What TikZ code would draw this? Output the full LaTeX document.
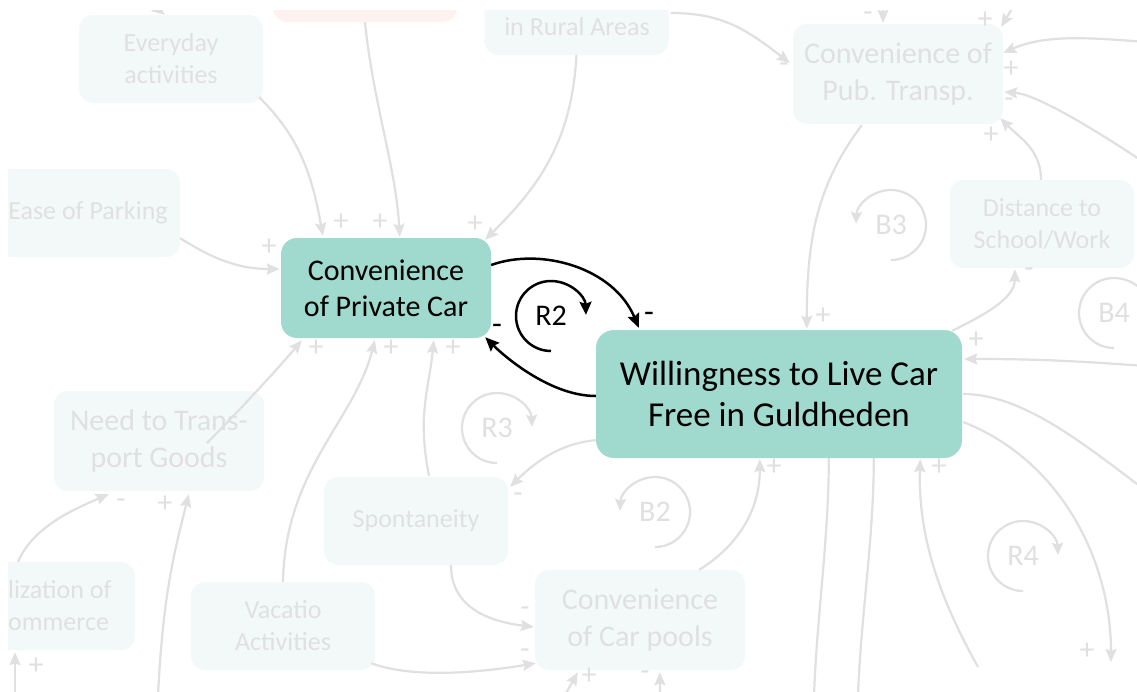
\documentclass[tikz,border=0pt]{standalone}
\usepackage{fontspec}
\setmainfont{Carlito}
\usetikzlibrary{arrows.meta,calc}
\definecolor{fadeline}{RGB}{224,224,224}
\definecolor{fadetext}{RGB}{224,224,224}
\definecolor{fadefill}{RGB}{243,249,249}
\definecolor{pinkfill}{RGB}{253,242,240}
\definecolor{tealfill}{RGB}{160,217,205}
\pgfdeclarelayer{back}
\pgfsetlayers{back,main}
\tikzset{
  smallbox/.style={rounded corners=14pt, fill=fadefill, text=fadetext, minimum width=184pt,
    minimum height=88pt, inner sep=0pt, align=center, font=\fontsize{26}{32}\selectfont},
  bigbox/.style={smallbox, minimum width=210pt, minimum height=100pt, font=\fontsize{30}{37}\selectfont},
  fadelabel/.style={text=fadetext, inner sep=0pt, font=\fontsize{26}{32}\selectfont},
  mainbox/.style={rounded corners=16pt, fill=tealfill, text=black, inner sep=0pt, align=center},
  fline/.style={draw=fadeline, line width=2.2pt, -{Stealth[length=13pt,width=11pt,inset=2pt]}},
  fplain/.style={draw=fadeline, line width=2.2pt},
  bline/.style={draw=black, line width=2.5pt, -{Stealth[length=14pt,width=12pt,inset=2pt]}},
  fsign/.style={text=fadetext, inner sep=0pt, font=\fontsize{30}{30}\selectfont},
  bsign/.style={text=black, inner sep=0pt, font=\fontsize{32}{32}\selectfont},
  floop/.style={text=fadetext, inner sep=0pt, font=\fontsize{30}{30}\selectfont},
  floopline/.style={draw=fadeline, line width=2.2pt, -{Stealth[length=12pt,width=11pt,inset=2pt]}},
  bloop/.style={text=black, inner sep=0pt, font=\fontsize{30}{30}\selectfont},
  bloopline/.style={draw=black, line width=2.5pt, -{Stealth[length=13pt,width=12pt,inset=2pt]}},
}
\begin{document}
\begin{tikzpicture}[x=1pt,y=-1pt]
\useasboundingbox (0,0) rectangle (1137,691);

% highlighted variables of loop R2
\node[mainbox, minimum width=210pt, minimum height=100pt, font=\fontsize{30}{36}\selectfont]
  (cpc) at (386,288) {Convenience\\of Private Car};
\node[mainbox, rounded corners=18pt, minimum width=366pt, minimum height=128pt, font=\fontsize{35}{41}\selectfont]
  (wlcf) at (779,394) {Willingness to Live Car\\Free in Guldheden};

\draw[bline] ($(cpc.east)+(0,-23)$) .. controls +(50,-18) and +(-25,-60) .. ($(wlcf.north west)+(43,-2)$);
\draw[bline] ($(wlcf.west)+(0,2)$) .. controls +(-45,0) and +(20,20) .. ($(cpc.south east)+(-6,-1)$);
\node[bsign] (m1) at (649,317) {-};
\node[bsign] (m2) at (497,329) {-};

\node[bloop] (r2) at (551,316) {R2};
\draw[bloopline] ($(r2)+(0,35)$) arc[start angle=-90, end angle=-358, radius=35pt];

\begin{pgfonlayer}{back}
\fill[white] (0,0) rectangle (1137,691);
\begin{scope}
\clip (8,10) rectangle (1137,691);

% faded variables
\node[smallbox, fill=pinkfill] (red) at (365,-22) {};
\node[smallbox] (everyday) at (171,59) {Everyday\\activities};
\node[smallbox] (rural) at (576.5,11) {};
\node[fadelabel] (ruraltext) at (577,27) {in Rural Areas};
\node[smallbox] (parking) at (88,213) {Ease of Parking};
\node[bigbox] (pubt) at (898,74) {Convenience of\\Pub. Transp.};
\node[smallbox] (distance) at (1042,224) {Distance to\\School/Work};
\node[bigbox] (need) at (159,441) {Need to Trans-\\port Goods};
\node[smallbox] (spont) at (416,521) {Spontaneity};
\node[smallbox] (vacatio) at (283,626) {Vacatio\\Activities};
\node[bigbox] (carpool) at (640,620) {Convenience\\of Car pools};
\node[smallbox] (lization) at (43,606) {};
\node[fadelabel, anchor=west, align=left] (lizationtext) at (8,606) {lization of\\ommerce};

% free ends of links leaving the sheet
\coordinate (topA) at (883,-5);
\coordinate (topB) at (1020,-5);
\coordinate (topE) at (140,-5);
\coordinate (rightA) at (1145,42);
\coordinate (rightB) at (1145,163);
\coordinate (rightC) at (1145,366);
\coordinate (rightD) at (1145,490);
\coordinate (outR) at (1111,662);
\coordinate (botA) at (978,667);
\coordinate (botB) at (814,695);
\coordinate (botC) at (858,695);
\coordinate (botD) at (158,695);
\coordinate (botE) at (15,695);
\coordinate (botF) at (565,695);
\coordinate (botG) at (660,695);

% faded links
\draw[fline] (red.south) .. controls +(8,80) and +(-4,-70) .. ($(cpc.north west)+(119,-1)$);
\draw[fline] ($(everyday.south east)+(-4,-6)$) .. controls +(35,35) and +(-12,-70) .. ($(cpc.north west)+(42,-2)$);
\draw[fline] (rural.south) .. controls +(-5,90) and +(50,-50) .. ($(cpc.north east)+(-6,2)$);
\draw[fline] ($(parking.south east)+(0,-19)$) .. controls +(35,22) and +(-40,0) .. ($(cpc.west)+(-1,-19)$);
\draw[fline] ($(need.center)+(48,2)$) .. controls +(25,-25) and +(-25,30) .. ($(cpc.south west)+(21,2)$);
\draw[fline] (vacatio.north) .. controls +(2,-112) and +(-20,80) .. ($(cpc.south west)+(94,2)$);
\draw[fline] ($(spont.north)+(13,-1)$) .. controls +(-12,-60) and +(-5,50) .. ($(cpc.south west)+(153,2)$);
\draw[fline] ($(wlcf.south west)+(0,-18)$) .. controls +(-35,3) and +(25,-25) .. ($(spont.north east)+(2,10)$);
\draw[fline] ($(spont.south)+(35,0)$) .. controls +(0,45) and +(-40,-5) .. ($(carpool.west)+(-1,7)$);
\draw[fline] ($(vacatio.south east)+(-4,-7)$) .. controls +(40,15) and +(-60,10) .. ($(carpool.south west)+(1,-7)$);
\draw[fline] ($(carpool.north east)+(-46,0)$) .. controls +(40,-25) and +(0,50) .. ($(wlcf.south west)+(164,1)$);
\draw[fline] ($(pubt.south west)+(69,1)$) .. controls +(-45,60) and +(0,-90) .. ($(wlcf.north west)+(211,-1)$);
\draw[fline] ($(rural.east)+(2,2)$) .. controls +(50,0) and +(-45,-35) .. ($(pubt.west)+(-3,-11)$);
\draw[fline] (topA) -- ($(pubt.north)+(-15,-1)$);
\draw[fline] (topB) -- ($(pubt.north east)+(-2,3)$);
\draw[fline] (rightA) .. controls +(-60,-5) and +(40,-18) .. ($(pubt.east)+(0,-21)$);
\draw[fline] (rightB) .. controls +(-60,-40) and +(30,2) .. ($(pubt.east)+(1,18)$);
\draw[fline] ($(distance.north)+(-1,0)$) .. controls +(0,-30) and +(20,20) .. ($(pubt.south east)+(-3,-6)$);
\draw[fline] ($(wlcf.north east)+(-10,1)$) .. controls +(30,-15) and +(0,30) .. ($(distance.south west)+(65,1)$);
\draw[fline] (rightC) .. controls +(-80,-6) and +(60,0) .. ($(wlcf.east)+(2,-35)$);
\draw[fplain] ($(wlcf.east)+(1,0)$) .. controls +(60,0) and +(-60,-45) .. (rightD);
\draw[fline] ($(wlcf.east)+(1,28)$) .. controls +(97,38) and +(0,-102) .. (outR);
\draw[fline] (botA) .. controls +(-43,-77) and +(-2,71) .. ($(wlcf.south east)+(-42,1)$);
\draw[fplain] ($(wlcf.south west)+(233,0)$) .. controls +(0,80) and +(3,-80) .. (botB);
\draw[fplain] ($(wlcf.south west)+(278,0)$) .. controls +(0,80) and +(3,-80) .. (botC);
\draw[fline] ($(lization.north)+(-25,0)$) .. controls +(15,-35) and +(-35,15) .. ($(need.south west)+(55,3)$);
\draw[fline] (botD) .. controls +(5,-100) and +(-15,60) .. ($(need.south west)+(135,3)$);
\draw[fline] (botE) -- ($(lization.south)+(-28,2)$);
\draw[fline] (botF) -- ($(carpool.south west)+(43,2)$);
\draw[fline] (botG) -- ($(carpool.south west)+(125,2)$);
\draw[fline] (topE) -- ($(everyday.north west)+(86,0)$);

% link polarities
\node[fsign] (p1) at (380,222) {+};
\node[fsign] (p2) at (341,222) {+};
\node[fsign] (p3) at (475,224) {+};
\node[fsign] (p4) at (269,247) {+};
\node[fsign] (p5) at (316,348) {+};
\node[fsign] (p6) at (391,348) {+};
\node[fsign] (p7) at (453,348) {+};
\node[fsign] (p8) at (518,498) {-};
\node[fsign] (p9) at (525,612) {-};
\node[fsign] (p10) at (525,654) {-};
\node[fsign] (p11) at (774,467) {+};
\node[fsign] (p12) at (823,316) {+};
\node[fsign] (p13) at (784,68) {-};
\node[fsign] (p14) at (868,17) {-};
\node[fsign] (p15) at (985,20) {+};
\node[fsign] (p16) at (1011,69) {+};
\node[fsign] (p17) at (1009,103) {-};
\node[fsign] (p18) at (991,135) {+};
\node[fsign] (p19) at (1029,273) {-};
\node[fsign] (p20) at (976,340) {+};
\node[fsign] (p21) at (1087,651) {+};
\node[fsign] (p22) at (939,467) {+};
\node[fsign] (p23) at (121,504) {-};
\node[fsign] (p24) at (165,504) {+};
\node[fsign] (p25) at (36,666) {+};
\node[fsign] (p26) at (589,676) {+};
\node[fsign] (p27) at (645,676) {-};

% faded loop markers
\node[floop] (r3) at (497,428) {R3};
\draw[floopline] ($(r3)+(0,35)$) arc[start angle=-90, end angle=-358, radius=35pt];
\node[floop] (r4) at (1023,556) {R4};
\draw[floopline] ($(r4)+(0,35)$) arc[start angle=-90, end angle=-358, radius=35pt];
\node[floop] (b4) at (1114,313) {B4};
\draw[floopline] ($(b4)+(0,35)$) arc[start angle=-90, end angle=-358, radius=35pt];
\node[floop] (b2) at (655,512) {B2};
\draw[floopline] ($(b2)+(0,35)$) arc[start angle=-90, end angle=178, radius=35pt];
\node[floop] (b3) at (891,225) {B3};
\draw[floopline] ($(b3)+(0,35)$) arc[start angle=-90, end angle=178, radius=35pt];
\end{scope}
\end{pgfonlayer}
\end{tikzpicture}
\end{document}
